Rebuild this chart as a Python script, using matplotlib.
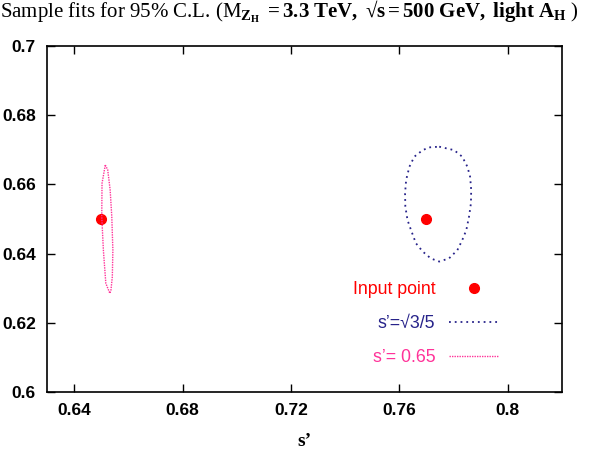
import numpy as np
import matplotlib
matplotlib.use("Agg")
import matplotlib.pyplot as plt

plt.rcParams['font.family'] = ['Liberation Sans', 'DejaVu Sans']
plt.rcParams['mathtext.fontset'] = 'custom'
plt.rcParams['mathtext.rm'] = 'Liberation Serif'
plt.rcParams['mathtext.bf'] = 'Liberation Serif:bold'
plt.rcParams['mathtext.it'] = 'Liberation Serif:italic'

# puntos de entrada (s', eje y)
input_x = [0.650, 0.770]
input_y = [0.650, 0.650]

# contorno 95% C.L. para s' = sqrt(3/5)
blue_x = [0.7747, 0.7802, 0.7832, 0.7851, 0.7861, 0.7865, 0.7864, 0.7857, 0.7847,
          0.7832, 0.7814, 0.7783, 0.7747, 0.7716, 0.7686, 0.7661, 0.7643, 0.7630,
          0.7622, 0.7621, 0.7625, 0.7637, 0.7655, 0.7686, 0.7710, 0.7747]
blue_y = [0.6709, 0.6699, 0.6680, 0.6651, 0.6622, 0.6584, 0.6545, 0.6507, 0.6468,
          0.6439, 0.6410, 0.6386, 0.6377, 0.6386, 0.6406, 0.6430, 0.6468, 0.6497,
          0.6536, 0.6574, 0.6613, 0.6651, 0.6680, 0.6699, 0.6707, 0.6709]

# contorno 95% C.L. para s' = 0.65
pink_x = [0.6515, 0.6524, 0.6533, 0.6539, 0.6543, 0.6541, 0.6536, 0.6532,
          0.6517, 0.6508, 0.6502, 0.6503, 0.6515]
pink_y = [0.6656, 0.6642, 0.6584, 0.6507, 0.6410, 0.6333, 0.6295, 0.6285,
          0.6314, 0.6410, 0.6507, 0.6603, 0.6656]

xticks = [0.64, 0.68, 0.72, 0.76, 0.80]
xtick_labels = ["0.64", "0.68", "0.72", "0.76", "0.8"]
yticks = [0.60, 0.62, 0.64, 0.66, 0.68, 0.70]
ytick_labels = ["0.6", "0.62", "0.64", "0.66", "0.68", "0.7"]

c_red = '#ff0000'
c_blue = '#27238a'
c_pink = '#ff3399'

fig = plt.figure(figsize=(5.94, 4.49), dpi=100)
ax = fig.add_axes([47 / 594, 57 / 449, 515 / 594, 346 / 449])

ax.plot(input_x, input_y, 'o', color=c_red, markersize=7, label='Input point')
ax.plot(blue_x, blue_y, color=c_blue, linewidth=1.3, linestyle=(0, (1, 2.2)),
        label='s\u2019=\u221a3/5')
ax.plot(pink_x, pink_y, color=c_pink, linewidth=1.0, linestyle=(0, (1, 0.8)),
        label='s\u2019= 0.65')

ax.set_xlim(0.63, 0.82)
ax.set_ylim(0.60, 0.70)
ax.set_xticks(xticks)
ax.set_xticklabels(xtick_labels)
ax.set_yticks(yticks)
ax.set_yticklabels(ytick_labels)
ax.tick_params(direction='in', length=6, width=1.0, top=True, right=True,
               labelsize=12.5, pad=8)
for lab in ax.get_xticklabels() + ax.get_yticklabels():
    lab.set_fontweight('bold')
for sp in ax.spines.values():
    sp.set_linewidth(1.2)

ax.set_xlabel('s\u2019', family='Liberation Serif', fontweight='bold',
              fontsize=14, labelpad=11)

ax.legend(loc='center right', bbox_to_anchor=(0.878, 0.197), frameon=False,
          markerfirst=False, numpoints=1, handlelength=2.8, handletextpad=0.8,
          labelspacing=0.95, borderpad=0, borderaxespad=0, fontsize=12.8,
          labelcolor=[c_red, c_blue, c_pink])

title = ("Sample fits for 95% C.L. (M" + r"$_{\mathbf{Z_H}}$"
         + "$\\mathbf{\\ = 3.3\\ TeV,\\ \u221as = 500\\ GeV,\\ light\\ A_H}$" + " )")
fig.text(0.0, 1 - 18 / 449, title, family='Liberation Serif', fontsize=15,
         va='baseline', ha='left')

fig.savefig("out.png", dpi=100)
